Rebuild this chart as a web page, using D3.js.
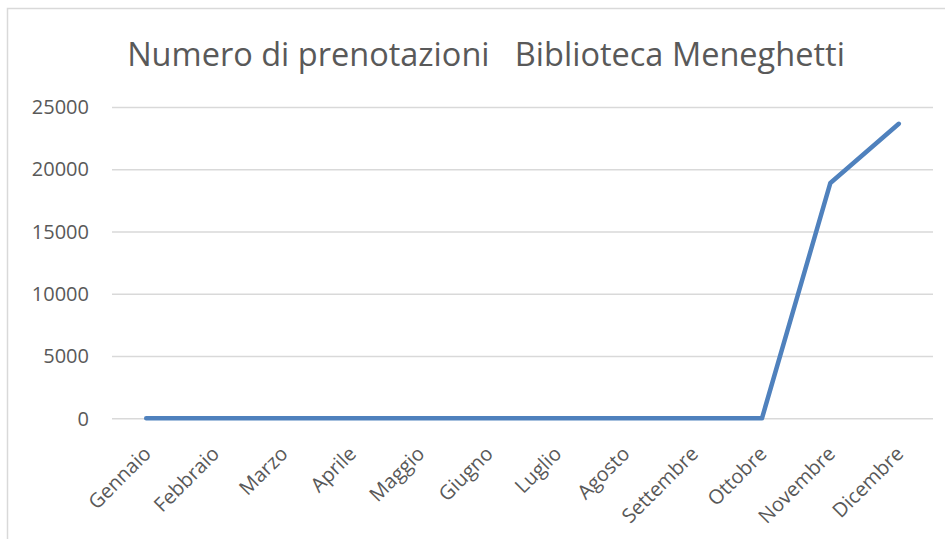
<!DOCTYPE html>
<html>
<head>
<meta charset="utf-8">
<script src="https://cdn.jsdelivr.net/npm/d3@7"></script>
<style>
  body { margin: 0; background: #fff; }
  text { font-family: "Open Sans", sans-serif; fill: #595959; }
</style>
</head>
<body>
<div class="canvas"></div>
<script>
const w = 945;
const h = 539;
const margin = {top: 107, bottom: 121, left: 112, right: 12};

const months = ["Gennaio", "Febbraio", "Marzo", "Aprile", "Maggio", "Giugno",
                "Luglio", "Agosto", "Settembre", "Ottobre", "Novembre", "Dicembre"];
const prenotazioni = [0, 0, 0, 0, 0, 0, 0, 0, 0, 0, 18900, 23650];
const yTicks = [0, 5000, 10000, 15000, 20000, 25000];
const title = "Numero di prenotazioni   Biblioteca Meneghetti";

const svg = d3.select(".canvas")
              .append("svg")
              .attr("width", w)
              .attr("height", h);

// chart frame
svg.append("rect")
   .attr("x", 7.5).attr("y", 8.5)
   .attr("width", w + 10).attr("height", h + 10)
   .attr("fill", "none")
   .attr("stroke", "#d9d9d9")
   .attr("stroke-width", 1.5);

const x = d3.scaleBand()
            .domain(months)
            .range([margin.left, w - margin.right]);

const y = d3.scaleLinear()
            .domain([0, 25000])
            .range([h - margin.bottom + 0.3, margin.top]);

// gridlines
svg.append("g")
   .attr("transform", "translate(" + margin.left + ",0)")
   .call(d3.axisLeft(y).tickValues(yTicks).tickSize(-(w - margin.left - margin.right)).tickFormat(""))
   .call(g => g.select(".domain").remove())
   .call(g => g.selectAll("line").attr("stroke", "#d9d9d9").attr("stroke-width", 1.5));

// y labels
svg.append("g")
   .selectAll("text")
   .data(yTicks)
   .enter().append("text")
   .attr("x", 89)
   .attr("y", d => y(d))
   .attr("dy", "0.36em")
   .attr("text-anchor", "end")
   .style("font-size", "20px")
   .text(d => d);

// x labels
svg.append("g")
   .selectAll("text")
   .data(months)
   .enter().append("text")
   .attr("transform", d => "translate(" + (x(d) + x.bandwidth() / 2 + 6) + ",455) rotate(-45)")
   .attr("text-anchor", "end")
   .style("font-size", "20px")
   .text(d => d);

// line
const line = d3.line()
               .x((d, i) => x(months[i]) + x.bandwidth() / 2)
               .y(d => y(d));

svg.append("path")
   .datum(prenotazioni)
   .attr("d", line)
   .attr("fill", "none")
   .attr("stroke", "#4f81bd")
   .attr("stroke-width", 4.5)
   .attr("stroke-linecap", "round")
   .attr("stroke-linejoin", "round");

// title
const t = svg.append("text")
   .attr("x", 486)
   .attr("y", 66)
   .attr("text-anchor", "middle")
   .style("font-size", "34px")
   .attr("xml:space", "preserve")
   .text(title);
// squeeze to the reference width
const tw = t.node().getComputedTextLength();
if (tw > 718) t.style("font-size", (34 * 718 / tw) + "px");
</script>
</body>
</html>
